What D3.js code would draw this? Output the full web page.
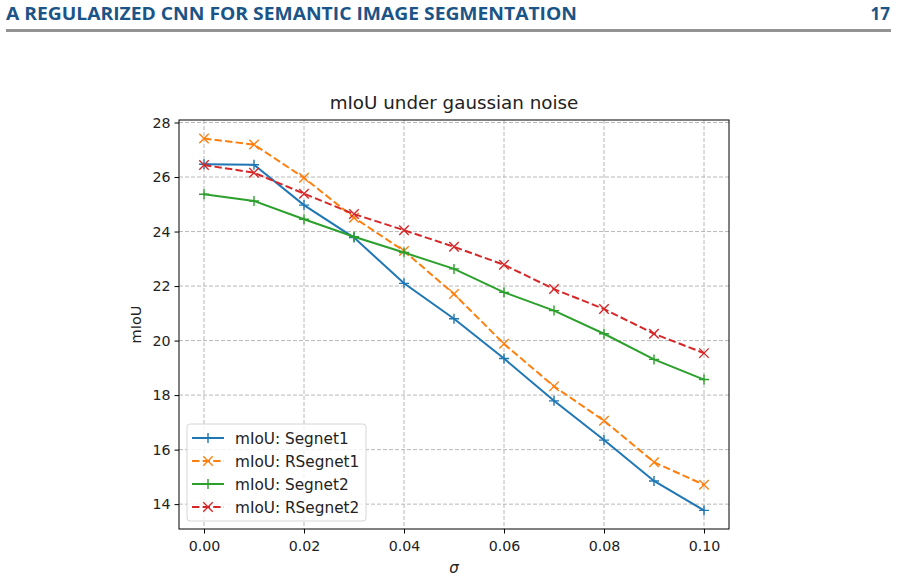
<!DOCTYPE html>
<html>
<head>
<meta charset="utf-8">
<script src="https://cdn.jsdelivr.net/npm/d3@7"></script>
<style>
  html, body { margin: 0; padding: 0; background: #fff; }
  svg { display: block; }
</style>
</head>
<body>
<div id="chart"></div>
<script>
/* ── data ───────────────────────────────────────────── */
const sigma = [0.00, 0.01, 0.02, 0.03, 0.04, 0.05, 0.06, 0.07, 0.08, 0.09, 0.10];
const segnet1  = [26.47, 26.45, 24.97, 23.78, 22.10, 20.80, 19.34, 17.79, 16.35, 14.85, 13.77];
const rsegnet1 = [27.41, 27.19, 25.97, 24.51, 23.29, 21.71, 19.88, 18.32, 17.06, 15.54, 14.71];
const segnet2  = [25.37, 25.12, 24.45, 23.81, 23.23, 22.63, 21.77, 21.10, 20.25, 19.31, 18.57];
const rsegnet2 = [26.44, 26.16, 25.39, 24.64, 24.05, 23.44, 22.78, 21.89, 21.16, 20.25, 19.54];
const seriesNames = ['mIoU: Segnet1', 'mIoU: RSegnet1', 'mIoU: Segnet2', 'mIoU: RSegnet2'];
const xTicks = [0.00, 0.02, 0.04, 0.06, 0.08, 0.10];
const yTicks = [14, 16, 18, 20, 22, 24, 26, 28];
const headerText = 'A REGULARIZED CNN FOR SEMANTIC IMAGE SEGMENTATION';
const pageNumber = '17';

/* ── setup ──────────────────────────────────────────── */
const W = 898, H = 580;
const box = { l: 179, r: 729, t: 120, b: 529 };
const FONT = 'DejaVu Sans, sans-serif';

const svg = d3.select('#chart').append('svg')
  .attr('width', W).attr('height', H);

/* page header */
svg.append('text')
  .attr('x', 6).attr('y', 20)
  .attr('font-family', 'Open Sans, sans-serif').attr('font-weight', 700)
  .attr('font-size', 17).attr('fill', '#1b5487')
  .attr('textLength', 571).attr('lengthAdjust', 'spacingAndGlyphs')
  .text(headerText);
svg.append('text')
  .attr('x', 890).attr('y', 20).attr('text-anchor', 'end')
  .attr('font-family', 'Open Sans, sans-serif').attr('font-weight', 700)
  .attr('font-size', 17).attr('fill', '#1b5487')
  .text(pageNumber);
svg.append('rect')
  .attr('x', 6).attr('y', 29).attr('width', 885).attr('height', 3)
  .attr('fill', '#939393');

/* scales – matplotlib 5% margins */
const xPad = 0.1 * 0.05;
const x = d3.scaleLinear().domain([-xPad, 0.1 + xPad]).range([box.l, box.r]);
const all = segnet1.concat(rsegnet1, segnet2, rsegnet2);
const yMin = d3.min(all), yMax = d3.max(all), yPad = (yMax - yMin) * 0.05;
const y = d3.scaleLinear().domain([yMin - yPad, yMax + yPad]).range([box.b, box.t]);

/* grid */
const grid = svg.append('g').attr('stroke', '#b0b0b0').attr('stroke-width', 0.9)
  .attr('stroke-dasharray', '4,2');
xTicks.forEach(t => grid.append('line')
  .attr('x1', x(t)).attr('x2', x(t)).attr('y1', box.t).attr('y2', box.b));
yTicks.forEach(t => grid.append('line')
  .attr('x1', box.l).attr('x2', box.r).attr('y1', y(t)).attr('y2', y(t)));

/* axes */
const xAxis = svg.append('g').attr('transform', `translate(0,${box.b})`)
  .call(d3.axisBottom(x).tickValues(xTicks).tickFormat(d3.format('.2f'))
    .tickSize(4.5).tickPadding(4));
const yAxis = svg.append('g').attr('transform', `translate(${box.l},0)`)
  .call(d3.axisLeft(y).tickValues(yTicks).tickFormat(d3.format('d'))
    .tickSize(4.5).tickPadding(4));
[xAxis, yAxis].forEach(a => {
  a.select('.domain').remove();
  a.selectAll('line').attr('stroke', '#000').attr('stroke-width', 1);
  a.selectAll('text').attr('font-family', FONT).attr('font-size', 14.2).attr('fill', '#222');
});
xAxis.selectAll('text').attr('dy', '0.95em');

/* frame */
svg.append('rect')
  .attr('x', box.l).attr('y', box.t)
  .attr('width', box.r - box.l).attr('height', box.b - box.t)
  .attr('fill', 'none').attr('stroke', '#000').attr('stroke-width', 1);

/* labels */
svg.append('text').attr('x', (box.l + box.r) / 2).attr('y', 109)
  .attr('text-anchor', 'middle').attr('font-family', FONT).attr('font-size', 18.3)
  .attr('fill', '#222').text('mIoU under gaussian noise');
svg.append('text')
  .attr('transform', `translate(141,${(box.t + box.b) / 2}) rotate(-90)`)
  .attr('text-anchor', 'middle').attr('font-family', FONT).attr('font-size', 14.5)
  .attr('fill', '#222').text('mIoU');
svg.append('text').attr('x', (box.l + box.r) / 2).attr('y', 573)
  .attr('text-anchor', 'middle').attr('font-family', FONT).attr('font-size', 15)
  .attr('font-style', 'italic').attr('fill', '#222').text('σ');

/* series */
const colors = ['#1f77b4', '#ff7f0e', '#2ca02c', '#d62728'];
const dashed = [false, true, false, true];
const markers = ['plus', 'x', 'plus', 'x'];
const data = [segnet1, rsegnet1, segnet2, rsegnet2];

function drawMarker(g, kind, cx, cy, color) {
  const s = 5;
  if (kind === 'plus') {
    g.append('path').attr('d', `M${cx - s},${cy}H${cx + s}M${cx},${cy - s}V${cy + s}`)
      .attr('stroke', color).attr('stroke-width', 1.4).attr('fill', 'none');
  } else {
    const k = s * 0.95;
    g.append('path').attr('d', `M${cx - k},${cy - k}L${cx + k},${cy + k}M${cx - k},${cy + k}L${cx + k},${cy - k}`)
      .attr('stroke', color).attr('stroke-width', 1.4).attr('fill', 'none');
  }
}

const line = d3.line().x((d, i) => x(sigma[i])).y(d => y(d));
const plot = svg.append('g');
data.forEach((vals, k) => {
  plot.append('path').datum(vals)
    .attr('d', line).attr('fill', 'none')
    .attr('stroke', colors[k]).attr('stroke-width', 2)
    .attr('stroke-dasharray', dashed[k] ? '7.4,3.2' : null);
  vals.forEach((v, i) => drawMarker(plot, markers[k], x(sigma[i]), y(v), colors[k]));
});

/* legend */
const leg = svg.append('g').attr('transform', 'translate(187,424)');
leg.append('rect').attr('width', 179).attr('height', 97).attr('rx', 3)
  .attr('fill', 'rgba(255,255,255,0.8)').attr('stroke', '#d6d6d6').attr('stroke-width', 1);
seriesNames.forEach((name, k) => {
  const ly = 14 + k * 23;
  leg.append('line').attr('x1', 5).attr('x2', 37).attr('y1', ly).attr('y2', ly)
    .attr('stroke', colors[k]).attr('stroke-width', 2)
    .attr('stroke-dasharray', dashed[k] ? '7.4,3.2' : null);
  drawMarker(leg, markers[k], 21, ly, colors[k]);
  leg.append('text').attr('x', 48).attr('y', ly + 5.5)
    .attr('font-family', FONT).attr('font-size', 15.3).attr('fill', '#222').text(name);
});
</script>
</body>
</html>
